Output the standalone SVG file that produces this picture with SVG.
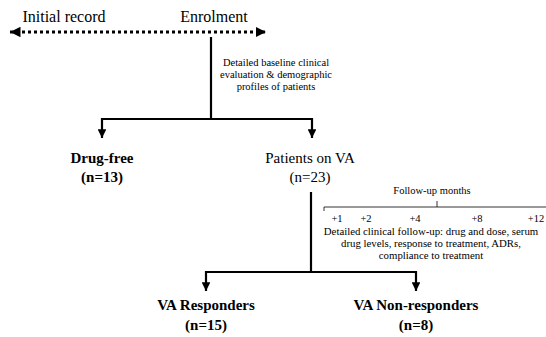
<svg xmlns="http://www.w3.org/2000/svg" width="546" height="337" viewBox="0 0 546 337" font-family="'Liberation Serif', 'DejaVu Serif', serif">
<defs>
<marker id="ah" viewBox="0 0 10 10" refX="10" refY="5" markerWidth="4" markerHeight="4" orient="auto-start-reverse" markerUnits="strokeWidth"><path d="M0,0 L10,5 L0,10 z" fill="#000"/></marker>
<marker id="ah2" viewBox="0 0 10 10" refX="10" refY="5" markerWidth="3.5" markerHeight="3.5" orient="auto-start-reverse" markerUnits="strokeWidth"><path d="M0,0 L10,5 L0,10 z" fill="#000"/></marker>
</defs>
<style>
text{font-family:'Liberation Serif','DejaVu Serif',serif;fill:#000;text-anchor:middle}
.big{font-size:16px}
.mid{font-size:15px}
.b{font-weight:bold}
.sm{font-size:10.5px}
.sm2{font-size:10.8px}
.ln{stroke:#000;stroke-width:2.2;fill:none}
.thin{stroke:#000;stroke-width:0.8;fill:none}
</style>
<rect width="546" height="337" fill="#fff"/>
<g id="timeline">
<text class="big" x="64" y="22">Initial record</text>
<text class="big" x="214" y="22">Enrolment</text>
</g>
<g id="connectors">
<line x1="10" y1="32" x2="266" y2="32" stroke="#000" stroke-width="3" stroke-dasharray="3,3" marker-start="url(#ah2)" marker-end="url(#ah2)"/>
<path class="ln" d="M211,37 V119"/>
<path class="ln" d="M102,138 V119 H312 V138" marker-start="url(#ah)" marker-end="url(#ah)"/>
<path class="ln" d="M311,192 V272"/>
<path class="ln" d="M206,291 V272 H416 V291" marker-start="url(#ah)" marker-end="url(#ah)"/>
</g>
<g id="baseline">
<text class="sm" x="276" y="66">Detailed baseline clinical</text>
<text class="sm" x="276" y="78">evaluation &amp; demographic</text>
<text class="sm" x="276" y="90">profiles of patients</text>
</g>
<g id="drugfree">
<text class="mid b" x="102" y="163">Drug-free</text>
<text class="mid b" x="102" y="182">(n=13)</text>
</g>
<g id="patientsVA">
<text class="mid" x="310" y="163">Patients on VA</text>
<text class="mid" x="310" y="182">(n=23)</text>
</g>
<g id="followup">
<text class="sm" x="432" y="194">Follow-up months</text>
<path class="thin" d="M324,211 V207 H546 M437,207 V201"/>
<text class="sm" x="337" y="222">+1</text>
<text class="sm" x="366" y="222">+2</text>
<text class="sm" x="415" y="222">+4</text>
<text class="sm" x="477" y="222">+8</text>
<text class="sm" x="536" y="222">+12</text>
<text class="sm2" x="431" y="235">Detailed clinical follow-up: drug and dose, serum</text>
<text class="sm2" x="431" y="247">drug levels, response to treatment, ADRs,</text>
<text class="sm2" x="431" y="259">compliance to treatment</text>
</g>
<g id="responders">
<text class="mid b" x="206" y="310">VA Responders</text>
<text class="mid b" x="206" y="330">(n=15)</text>
</g>
<g id="nonresponders">
<text class="mid b" x="416" y="310">VA Non-responders</text>
<text class="mid b" x="416" y="330">(n=8)</text>
</g>
</svg>
